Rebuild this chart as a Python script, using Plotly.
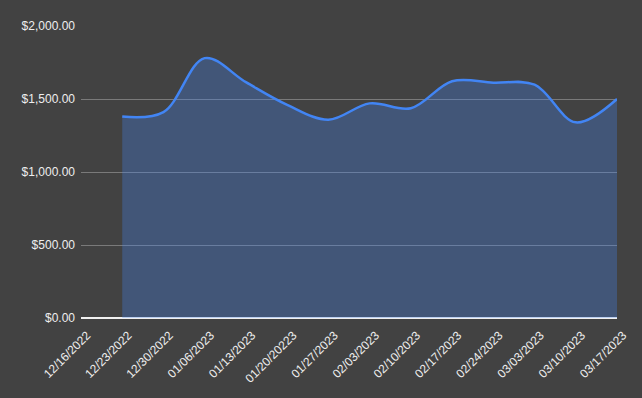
import plotly.graph_objects as go

dates = ["12/16/2022", "12/23/2022", "12/30/2022", "01/06/2023", "01/13/2023",
         "01/20/20223", "01/27/2023", "02/03/2023", "02/10/2023", "02/17/2023",
         "02/24/2023", "03/03/2023", "03/10/2023", "03/17/2023"]
values = [None, 1380, 1410, 1780, 1615, 1460, 1358, 1470, 1437, 1622,
          1612, 1598, 1340, 1500]
y_ticks = [0, 500, 1000, 1500, 2000]
y_labels = ["$0.00", "$500.00", "$1,000.00", "$1,500.00", "$2,000.00"]

fig = go.Figure()
fig.add_trace(go.Scatter(
    x=list(range(len(dates))), y=values, mode="lines",
    line=dict(color="#4285F4", width=2.5, shape="spline", smoothing=1.0),
    fill="tozeroy", fillcolor="rgba(66,133,244,0.3)",
    connectgaps=False, hoverinfo="skip",
))

fig.update_layout(
    width=642, height=398,
    margin=dict(l=81, r=20, t=26, b=80),
    paper_bgcolor="#424242", plot_bgcolor="#424242",
    font=dict(family="Liberation Sans, Arial, sans-serif", color="#eeeeee", size=12),
    showlegend=False,
)
fig.update_xaxes(
    range=[0, len(dates) - 1],
    tickmode="array", tickvals=list(range(len(dates))), ticktext=dates,
    tickangle=-45, tickfont=dict(size=12, color="#eeeeee"),
    ticklabelstandoff=7, ticklabelshift=6,
    showgrid=False, zeroline=False, showline=False, ticks="",
)
fig.update_yaxes(
    range=[0, 2000], tickmode="array", tickvals=y_ticks, ticktext=y_labels,
    showgrid=True, gridcolor="#7a7a7a", gridwidth=1,
    zeroline=True, zerolinecolor="#f0f0f0", zerolinewidth=1.5,
    ticks="", ticklen=0, showline=False, ticklabelstandoff=5,
    tickfont=dict(size=12, color="#eeeeee"),
)

fig.write_html("out.html", config={"displayModeBar": False},
               post_script="document.body.style.margin='0';document.body.style.background='#424242';")
